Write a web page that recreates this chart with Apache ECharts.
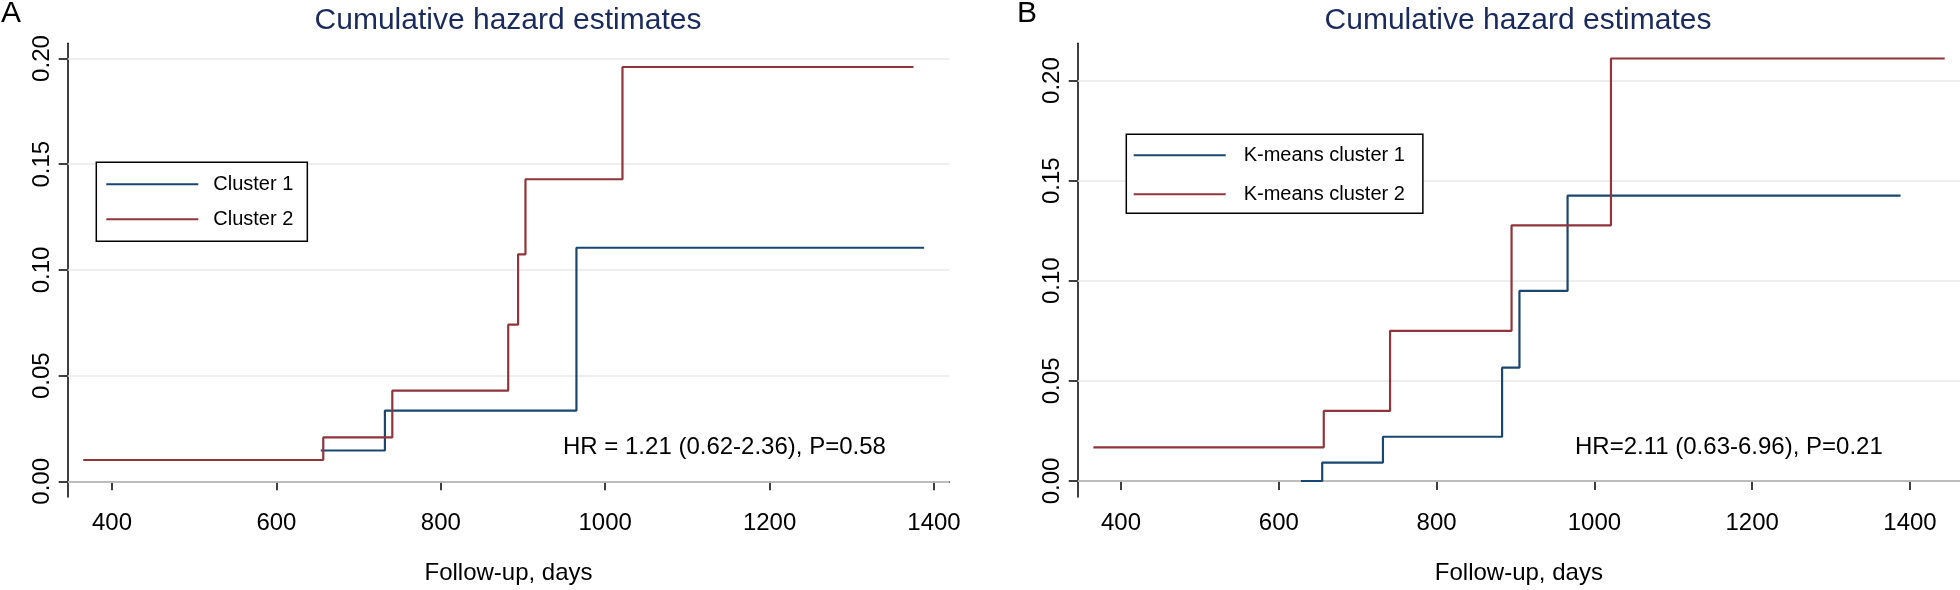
<!DOCTYPE html>
<html>
<head>
<meta charset="utf-8">
<script src="https://cdn.jsdelivr.net/npm/echarts@6/dist/echarts.min.js"></script>
<style>
html,body{margin:0;padding:0;background:#fff;}
#chart{width:1960px;height:590px;}
</style>
</head>
<body>
<div id="chart"></div>
<script>
// ---------- data ----------
const xTickValues = [400, 600, 800, 1000, 1200, 1400];
const yTickValues = [0, 0.05, 0.10, 0.15, 0.20];

// Panel A
const aCluster1Days   = [654, 732, 965, 1388];
const aCluster1Hazard = [0.0146, 0.0335, 0.1105, 0.1105];
const aCluster2Days   = [365, 657, 741, 882, 894, 903, 1021, 1375];
const aCluster2Hazard = [0.0101, 0.0208, 0.0429, 0.0741, 0.1074, 0.1429, 0.1960, 0.1960];

// Panel B
const bCluster1Days   = [628, 655, 732, 883, 905, 966, 1388];
const bCluster1Hazard = [0.0, 0.0092, 0.0221, 0.0566, 0.0949, 0.1425, 0.1425];
const bCluster2Days   = [365, 657, 741, 895, 1021, 1444];
const bCluster2Hazard = [0.0168, 0.035, 0.075, 0.1277, 0.211, 0.211];

const titleText = 'Cumulative hazard estimates';
const xAxisTitle = 'Follow-up, days';
const hrTextA = 'HR = 1.21 (0.62-2.36), P=0.58';
const hrTextB = 'HR=2.11 (0.63-6.96), P=0.21';
const namesA = ['Cluster 1', 'Cluster 2'];
const namesB = ['K-means cluster 1', 'K-means cluster 2'];

// ---------- styling ----------
const FONT = '"Liberation Sans", Arial, Helvetica, sans-serif';
const BLUE = '#1a476f';
const RED = '#90353b';
const TITLE_COLOR = '#1b2a5c';
const GRID_COLOR = '#e8e8e8';

function pairs(xs, ys) { return xs.map((x, i) => [x, ys[i]]); }

function xAxisFor(gridIndex, min, max) {
  return {
    type: 'value', gridIndex, min, max,
    axisLine: { show: true, lineStyle: { color: '#000', width: 1.5 } },
    axisTick: { show: true, length: 9, customValues: xTickValues, lineStyle: { color: '#000', width: 1.5 } },
    axisLabel: { customValues: xTickValues, fontSize: 24, color: '#000', fontFamily: FONT, margin: 14,
                 formatter: v => String(Math.round(v)) },
    splitLine: { show: false },
    name: xAxisTitle, nameLocation: 'middle', nameGap: 64,
    nameTextStyle: { fontSize: 24, color: '#000', fontFamily: FONT }
  };
}
function yAxisFor(gridIndex, min, max) {
  return {
    type: 'value', gridIndex, min, max,
    axisLine: { show: true, lineStyle: { color: '#000', width: 1.5 } },
    axisTick: { show: true, length: 9, customValues: yTickValues, lineStyle: { color: '#000', width: 1.5 } },
    axisLabel: { customValues: yTickValues, fontSize: 24, color: '#000', fontFamily: FONT, margin: 13, rotate: 90,
                 formatter: v => v.toFixed(2) },
    splitLine: { show: false }
  };
}
function gridLines() {
  return {
    silent: true, symbol: 'none', z: 1,
    label: { show: false },
    lineStyle: { color: GRID_COLOR, width: 1.5, type: 'solid' },
    data: yTickValues.map(v => ({ yAxis: v }))
  };
}
function stepSeries(name, axisIdx, days, vals, color, withGrid) {
  const s = {
    name, type: 'line', step: 'end', xAxisIndex: axisIdx, yAxisIndex: axisIdx,
    data: pairs(days, vals), symbol: 'none', showSymbol: false,
    lineStyle: { color, width: 2.2 }, itemStyle: { color }, z: 3
  };
  if (withGrid) s.markLine = gridLines();
  return s;
}

const chart = echarts.init(document.getElementById('chart'), null, { renderer: 'canvas' });
chart.setOption({
  animation: false,
  backgroundColor: '#fff',
  textStyle: { fontFamily: FONT },
  title: [
    { text: titleText, left: 508, top: 6, textAlign: 'center', padding: 0,
      textStyle: { fontSize: 30, fontWeight: 'normal', color: TITLE_COLOR, fontFamily: FONT } },
    { text: titleText, left: 1518, top: 6, textAlign: 'center', padding: 0,
      textStyle: { fontSize: 30, fontWeight: 'normal', color: TITLE_COLOR, fontFamily: FONT } }
  ],
  grid: [
    { left: 67.7, top: 43.3, width: 949.3 - 67.7, height: 498.3 - 43.3, containLabel: false },
    { left: 1077.7, top: 43.3, width: 1960 - 1077.7, height: 498.7 - 43.3, containLabel: false }
  ],
  xAxis: [ xAxisFor(0, 346.1, 1418.6), xAxisFor(1, 345.1, 1463.4) ],
  yAxis: [ yAxisFor(0, -0.0074, 0.2072), yAxisFor(1, -0.008, 0.2186) ],
  legend: [
    { orient: 'vertical', left: 96.3, top: 162.3, data: namesA,
      icon: 'rect', itemWidth: 92, itemHeight: 2, itemGap: 15,
      padding: [12, 14, 12, 10], borderColor: '#000', borderWidth: 1.5, borderRadius: 0,
      backgroundColor: '#fff', selectedMode: false,
      textStyle: { fontSize: 20, color: '#000', fontFamily: FONT, padding: [0, 0, 0, 10] } },
    { orient: 'vertical', left: 1126.3, top: 134.3, data: namesB,
      icon: 'rect', itemWidth: 92, itemHeight: 2, itemGap: 19,
      padding: [11, 18, 9, 7.4], borderColor: '#000', borderWidth: 1.5, borderRadius: 0,
      backgroundColor: '#fff', selectedMode: false,
      textStyle: { fontSize: 20, color: '#000', fontFamily: FONT, padding: [0, 0, 0, 13] } }
  ],
  series: [
    stepSeries(namesA[0], 0, aCluster1Days, aCluster1Hazard, BLUE, true),
    stepSeries(namesA[1], 0, aCluster2Days, aCluster2Hazard, RED, false),
    stepSeries(namesB[0], 1, bCluster1Days, bCluster1Hazard, BLUE, true),
    stepSeries(namesB[1], 1, bCluster2Days, bCluster2Hazard, RED, false)
  ],
  graphic: [
    { type: 'text', left: 1, top: -1, style: { text: 'A', fontSize: 30, fill: '#000', fontFamily: FONT } },
    { type: 'text', left: 1017, top: -1, style: { text: 'B', fontSize: 30, fill: '#000', fontFamily: FONT } },
    { type: 'text', left: 563, top: 435, style: { text: hrTextA, fontSize: 24, fill: '#000', fontFamily: FONT } },
    { type: 'text', left: 1575, top: 435, style: { text: hrTextB, fontSize: 24, fill: '#000', fontFamily: FONT } }
  ]
});
</script>
</body>
</html>
